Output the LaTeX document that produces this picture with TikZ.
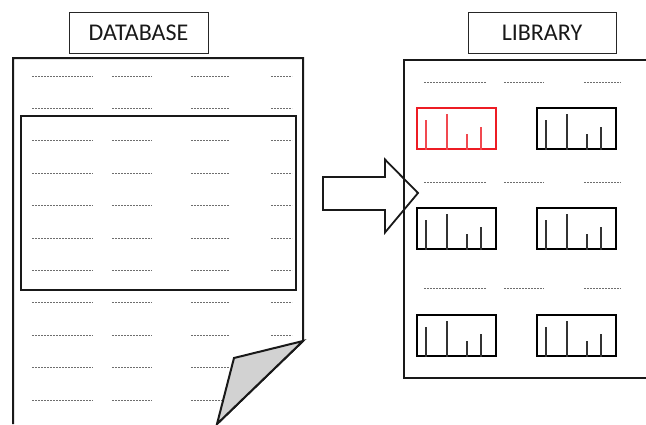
\documentclass[tikz,border=0pt]{standalone}
\usepackage{fontspec}
\setmainfont{Carlito}
\definecolor{specred}{HTML}{ED1C24}
\definecolor{dashgray}{HTML}{6E6E6E}
\definecolor{foldgray}{HTML}{D2D2D2}
\tikzset{
  labelbox/.style={draw=black!85, line width=1pt, minimum width=139pt, minimum height=41pt, inner sep=0pt, font=\fontsize{24}{24}\selectfont, text=black!90},
  pageline/.style={draw=black!90, line width=2pt, line join=miter},
  framebox/.style={draw=black!90, line width=2pt},
  dl/.style={draw=dashgray, line width=0.9pt, dash pattern=on 2pt off 1pt},
  specbox/.style={line width=2pt, minimum width=79pt, minimum height=41pt, inner sep=0pt},
  specline/.style={line width=1.3pt},
  bigarrow/.style={draw=black!90, line width=1.8pt, line join=miter},
}
\newcommand\specbox[3]{%
  \node[specbox, draw=#3] (#1) at (#2) {};
  \foreach \dx/\h in {10/30,31/36,51/16,65/23}
    \draw[specline, draw=#3!80] ([xshift=\dx pt]#1.south west) -- ++(0,-\h);
}
\begin{document}
\begin{tikzpicture}[x=1pt, y=-1pt]
\useasboundingbox (0,0) rectangle (646,424);
% labels
\node[labelbox] (dblabel) at (138.5,32.5) {DATABASE};
\node[labelbox, minimum width=148pt] (liblabel) at (542,32.5) {LIBRARY};
% left page
\draw[pageline] (13,424) -- (13,58) -- (303,58) -- (303,341) -- (217,424);
\foreach \i in {0,...,10} {
  \pgfmathsetmacro\yy{76+32.4*\i}
  \draw[dl] (32,\yy) -- (93,\yy);
  \draw[dl] (112,\yy) -- (152,\yy);
  \draw[dl] (191,\yy) -- (229,\yy);
  \ifnum\i<9 \draw[dl] (271,\yy) -- (292,\yy); \fi
}
\node[framebox, minimum width=275pt, minimum height=174pt, inner sep=0pt] (sel) at (158.5,203) {};
\filldraw[pageline, fill=foldgray] (303,341) -- (234,358) -- (217,424) -- cycle;
% arrow
\draw[bigarrow] (323,177) -- (385,177) -- (385,159.5) -- (418,193) -- (385,232.5) -- (385,210) -- (323,210) -- cycle;
% right page
\draw[pageline] (646,60) -- (404,60) -- (404,378) -- (646,378);
\foreach \yy in {82,182,288} {
  \draw[dl] (424,\yy) -- (486,\yy);
  \draw[dl] (504,\yy) -- (544,\yy);
  \draw[dl] (584,\yy) -- (621,\yy);
}
\specbox{s1}{456.5,128.5}{specred}
\specbox{s2}{576.5,128.5}{black}
\specbox{s3}{456.5,228.5}{black}
\specbox{s4}{576.5,228.5}{black}
\specbox{s5}{456.5,335.5}{black}
\specbox{s6}{576.5,335.5}{black}
\end{tikzpicture}
\end{document}
